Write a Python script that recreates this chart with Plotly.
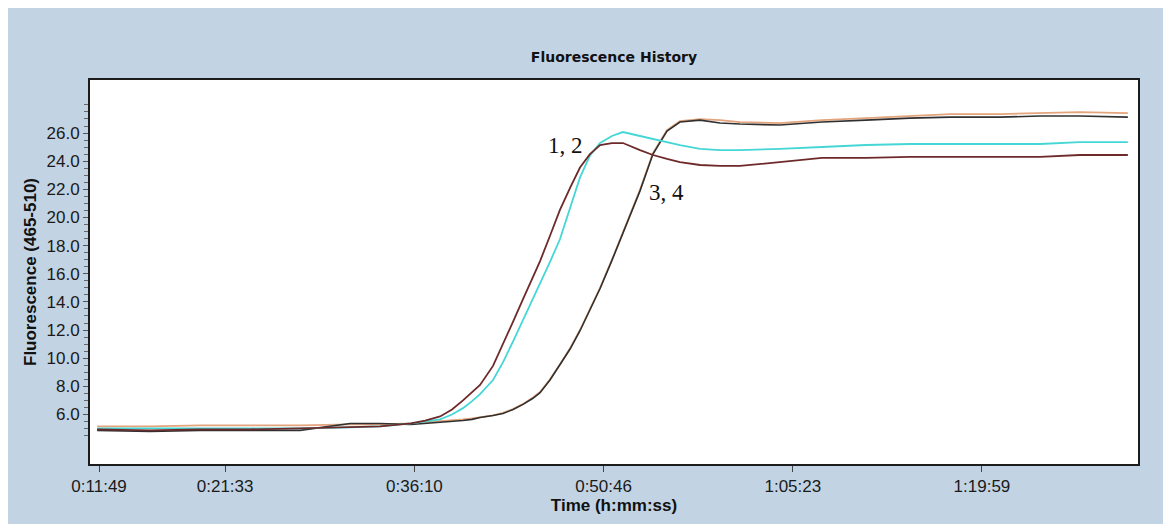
import plotly.graph_objects as go

# time axis (seconds since run start)
time_s = [700, 945, 1177, 1408, 1640, 1872, 2011, 2154, 2219, 2289, 2344, 2395, 2437, 2474,
          2534, 2580, 2627, 2673, 2719, 2752, 2798, 2844, 2891, 2937, 2983, 3030, 3085, 3136,
          3215, 3275, 3340, 3400, 3493, 3586, 3678, 3863, 4058, 4262, 4466, 4651, 4882, 5068,
          5253, 5475]

sample1 = [4.94, 4.87, 4.94, 4.94, 5.01, 5.08, 5.15, 5.36, 5.57, 5.86, 6.35, 7.0, 7.55, 8.1,
           9.45, 10.95, 12.6, 14.2, 15.75, 16.9, 18.7, 20.54, 22.1, 23.55, 24.5, 25.15, 25.29, 25.29,
           24.79, 24.44, 24.16, 23.94, 23.73, 23.66, 23.66, 23.94, 24.23, 24.23, 24.30, 24.30, 24.30, 24.30,
           24.44, 24.44]

sample2 = [5.01, 5.01, 5.01, 5.01, 5.01, 5.08, 5.15, 5.36, 5.50, 5.65, 6.00, 6.45, 6.95, 7.45,
           8.45, 9.7, 11.2, 12.7, 14.2, 15.3, 16.85, 18.45, 20.6, 22.85, 24.4, 25.29, 25.79, 26.07,
           25.79, 25.57, 25.36, 25.15, 24.87, 24.79, 24.79, 24.87, 25.01, 25.15, 25.22, 25.22, 25.22, 25.22,
           25.36, 25.36]

sample3 = [5.15, 5.15, 5.22, 5.22, 5.22, 5.29, 5.29, 5.36, 5.43, 5.50, 5.57, 5.65, 5.72, 5.79,
           5.93, 6.12, 6.38, 6.75, 7.2, 7.6, 8.5, 9.55, 10.7, 12.0, 13.45, 15.0, 17.0, 18.91,
           21.96, 24.58, 26.21, 26.85, 26.99, 26.92, 26.78, 26.71, 26.92, 27.06, 27.21, 27.35, 27.35, 27.42,
           27.49, 27.42]

sample4 = [4.87, 4.79, 4.87, 4.87, 4.87, 5.36, 5.36, 5.29, 5.36, 5.43, 5.50, 5.57, 5.65, 5.79,
           5.93, 6.07, 6.35, 6.72, 7.15, 7.55, 8.45, 9.5, 10.65, 11.95, 13.4, 14.95, 16.95, 18.84,
           21.89, 24.51, 26.14, 26.78, 26.92, 26.71, 26.64, 26.57, 26.78, 26.92, 27.06, 27.13, 27.13, 27.21,
           27.21, 27.13]

x_tick_vals = [709, 1293, 2170, 3046, 3923, 4799]
x_tick_text = ["0:11:49", "0:21:33", "0:36:10", "0:50:46", "1:05:23", "1:19:59"]
y_tick_vals = [6, 8, 10, 12, 14, 16, 18, 20, 22, 24, 26]
y_tick_text = ["6.0", "8.0", "10.0", "12.0", "14.0", "16.0", "18.0", "20.0", "22.0", "24.0", "26.0"]
y_minor_vals = [v / 2 for v in range(9, 57)]

labels = ["1, 2", "3, 4"]
label_x = [2868, 3340]
label_y = [25.1, 21.8]

BG = "#C2D4E4"
W, H = 1163, 516   # page body has an 8px margin
fig = go.Figure()
for ys, col, w in [(sample3, "#E4A47C", 1.8), (sample4, "#303030", 1.6),
                   (sample2, "#45D6D6", 1.8), (sample1, "#6E2A2A", 1.8)]:
    fig.add_trace(go.Scatter(x=time_s, y=ys, mode="lines",
                             line=dict(color=col, width=w), showlegend=False,
                             hoverinfo="skip"))

for t, lx, ly in zip(labels, label_x, label_y):
    fig.add_annotation(x=lx, y=ly, text=t, showarrow=False,
                       font=dict(family="Liberation Serif", size=23, color="#111111"),
                       xanchor="center", yanchor="middle")

fig.update_layout(
    width=W, height=H,
    margin=dict(l=82, r=33, t=72, b=60),
    paper_bgcolor=BG, plot_bgcolor="white",
    title=dict(text="<b>Fluorescence History</b>", x=0.5, xref="paper",
               y=1 - 49 / H, yanchor="middle", xanchor="center",
               font=dict(family="DejaVu Sans", size=14, color="#111111")),
    xaxis=dict(range=[667, 5522], tickmode="array", tickvals=x_tick_vals, ticktext=x_tick_text,
               showgrid=False, zeroline=False, showline=True, mirror=True,
               linecolor="#1c1c1c", linewidth=2, ticks="outside", ticklen=6,
               tickcolor="#444444", tickfont=dict(family="Liberation Sans", size=17, color="#1a1a1a"),
               title=dict(text="<b>Time (h:mm:ss)</b>", standoff=4,
                          font=dict(family="Liberation Sans", size=17, color="#111111"))),
    yaxis=dict(range=[2.48, 29.77], tickmode="array", tickvals=y_tick_vals, ticktext=y_tick_text,
               showgrid=False, zeroline=False, showline=True, mirror=True,
               linecolor="#1c1c1c", linewidth=2, ticks="outside", ticklen=5,
               tickcolor="#555555", tickfont=dict(family="Liberation Sans", size=17, color="#1a1a1a"),
               minor=dict(tickmode="array", tickvals=y_minor_vals, ticks="outside", ticklen=4,
                          tickcolor="#666666", showgrid=False),
               title=dict(text="<b>Fluorescence (465-510)</b>", standoff=6,
                          font=dict(family="Liberation Sans", size=17, color="#111111"))),
)

fig.write_html("out.html")
